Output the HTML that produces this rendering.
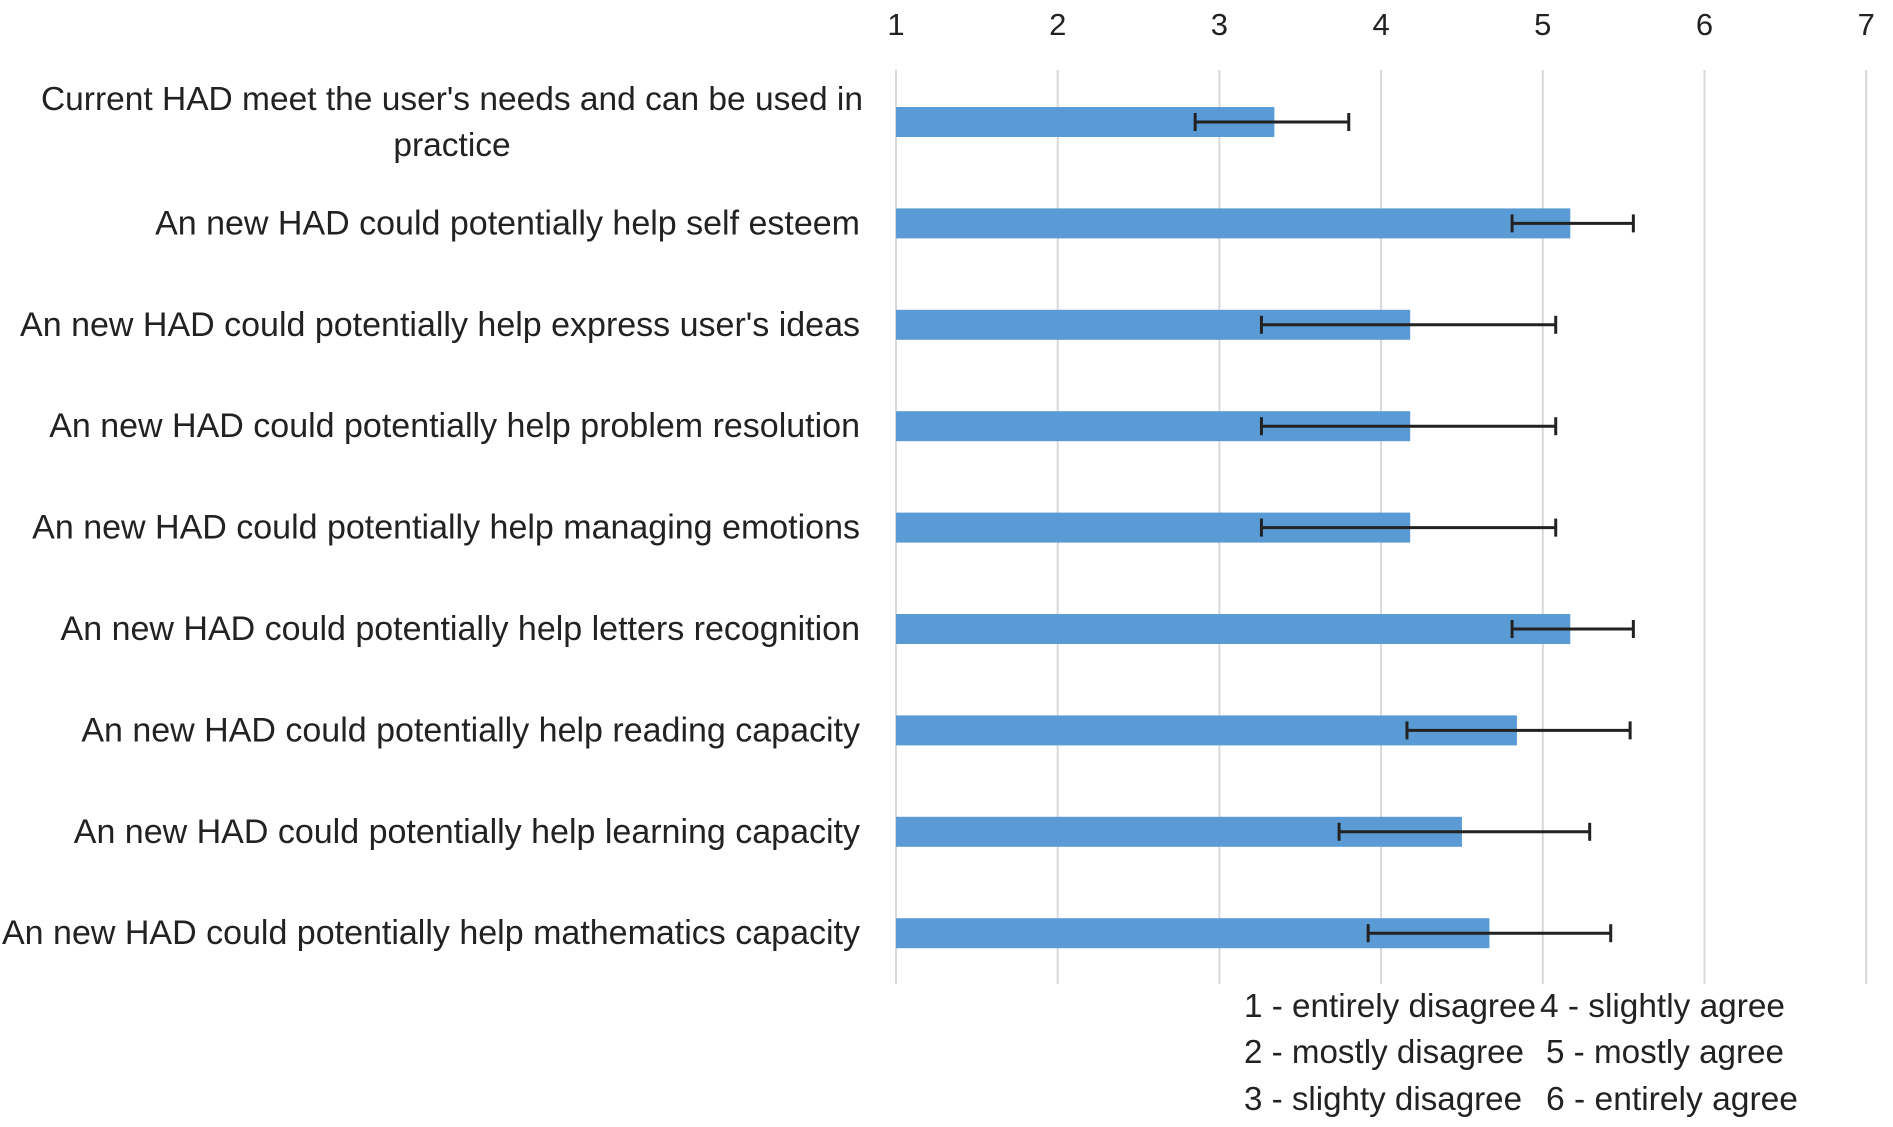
<!DOCTYPE html>
<html><head><meta charset="utf-8"><style>
body{margin:0;background:#fff;}
svg text{font-family:"Liberation Sans",sans-serif;fill:#222;}
</style></head><body>
<svg width="1893" height="1122" viewBox="0 0 1893 1122">
<g id="grid"></g>
<g id="ticks"></g>
<g id="bars"></g>
<g id="labels"></g>
<g font-size="33">
<text x="1244" y="1017" textLength="292" lengthAdjust="spacingAndGlyphs">1 - entirely disagree</text>
<text x="1244" y="1063" textLength="280" lengthAdjust="spacingAndGlyphs">2 - mostly disagree</text>
<text x="1244" y="1110" textLength="278" lengthAdjust="spacingAndGlyphs">3 - slighty disagree</text>
<text x="1540" y="1017" textLength="245" lengthAdjust="spacingAndGlyphs">4 - slightly agree</text>
<text x="1546" y="1063" textLength="238" lengthAdjust="spacingAndGlyphs">5 - mostly agree</text>
<text x="1546" y="1110" textLength="252" lengthAdjust="spacingAndGlyphs">6 - entirely agree</text>
</g>
</svg>
<script>
const categories=["Current HAD meet the user's needs and can be used in|practice","An new HAD could potentially help self esteem","An new HAD could potentially help express user's ideas","An new HAD could potentially help problem resolution","An new HAD could potentially help managing emotions","An new HAD could potentially help letters recognition","An new HAD could potentially help reading capacity","An new HAD could potentially help learning capacity","An new HAD could potentially help mathematics capacity"];
const means=[3.34,5.17,4.18,4.18,4.18,5.17,4.84,4.50,4.67];
const errLow=[2.85,4.81,3.26,3.26,3.26,4.81,4.16,3.74,3.92];
const errHigh=[3.80,5.56,5.08,5.08,5.08,5.56,5.54,5.29,5.42];
const tickLabels=[1,2,3,4,5,6,7];
const NS='http://www.w3.org/2000/svg';
const x=v=>896+(v-1)*161.7;
const y=i=>122+i*101.4;
function mk(tag,attrs,parent){const e=document.createElementNS(NS,tag);for(const k in attrs)e.setAttribute(k,attrs[k]);parent.appendChild(e);return e;}
const G=document.getElementById('grid'),T=document.getElementById('ticks'),B=document.getElementById('bars'),L=document.getElementById('labels');
tickLabels.forEach(t=>{
 const l=mk('line',{x1:x(t),x2:x(t),y1:70,y2:984,stroke:'#d9d9d9','stroke-width':2},G);
 
 
 const tx=mk('text',{x:x(t),y:35,'text-anchor':'middle','font-size':31},T);
 tx.textContent=t;
 
 
});
categories.forEach((c,i)=>{
 const cy=y(i);
 const r=mk('rect',{x:x(1),y:cy-15,width:x(means[i])-x(1),height:30,fill:'#5b9bd5'},B);
 
 
 const e=mk('g',{stroke:'#222','stroke-width':3},B);
 
 
 mk('line',{x1:x(errLow[i]),x2:x(errHigh[i]),y1:cy,y2:cy},e);
 mk('line',{x1:x(errLow[i]),x2:x(errLow[i]),y1:cy-9,y2:cy+9},e);
 mk('line',{x1:x(errHigh[i]),x2:x(errHigh[i]),y1:cy-9,y2:cy+9},e);
 const parts=c.split('|');
 if(parts.length>1){
  parts.forEach((p,j)=>{const t=mk('text',{x:452,y:cy-23+j*46+11,'text-anchor':'middle','font-size':33.5},L);t.textContent=p;
  
  });
 } else {
  const t=mk('text',{x:860,y:cy+11,'text-anchor':'end','font-size':34},L);t.textContent=c;
  
  
 }
});
</script>
</body></html>
